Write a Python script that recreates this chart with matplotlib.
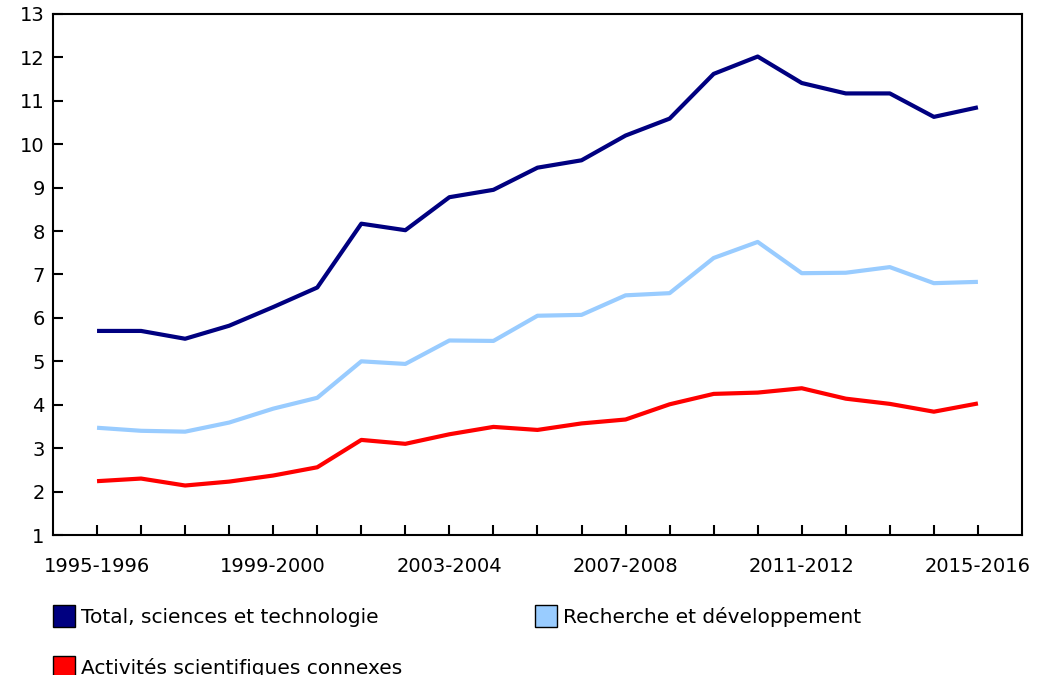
import matplotlib
matplotlib.use("Agg")
from matplotlib import pyplot as plt
from matplotlib.patches import Patch

# data
years = ["1995-1996", "1996-1997", "1997-1998", "1998-1999", "1999-2000",
         "2000-2001", "2001-2002", "2002-2003", "2003-2004", "2004-2005",
         "2005-2006", "2006-2007", "2007-2008", "2008-2009", "2009-2010",
         "2010-2011", "2011-2012", "2012-2013", "2013-2014", "2014-2015",
         "2015-2016"]
total_st = [5.7, 5.7, 5.52, 5.82, 6.25, 6.7, 8.17, 8.02, 8.78, 8.95,
            9.46, 9.63, 10.2, 10.59, 11.62, 12.02, 11.41, 11.17, 11.17, 10.63, 10.85]
rd = [3.47, 3.4, 3.38, 3.59, 3.91, 4.16, 5.0, 4.94, 5.48, 5.47,
      6.05, 6.07, 6.52, 6.57, 7.38, 7.75, 7.03, 7.04, 7.17, 6.8, 6.83]
related = [2.24, 2.3, 2.14, 2.23, 2.37, 2.56, 3.19, 3.1, 3.32, 3.49,
           3.42, 3.57, 3.66, 4.01, 4.25, 4.28, 4.38, 4.14, 4.02, 3.84, 4.03]
labels = ["Total, sciences et technologie", "Recherche et développement",
          "Activités scientifiques connexes"]
colors = ["#000080", "#99CCFF", "#FF0000"]

plt.rcParams['font.family'] = ['DejaVu Sans']

fig = plt.figure(figsize=(10.37, 6.75), dpi=100)
ax = fig.add_axes([0.0511, 0.2074, 0.9344, 0.7719])

x = list(range(len(years)))
for series, color in zip([total_st, rd, related], colors):
    ax.plot(x, series, color=color, linewidth=3, solid_capstyle='butt')

ax.set_xlim(-1, 21)
ax.set_ylim(1, 13)
ax.set_yticks(range(1, 14))
ax.set_xticks(x)
ax.set_xticklabels([y if i % 4 == 0 else "" for i, y in enumerate(years)])
ax.tick_params(axis='both', direction='in', length=7, width=1.5, labelsize=14,
               colors='black')
ax.tick_params(axis='x', pad=16)
ax.tick_params(axis='y', pad=6)
for side in ax.spines.values():
    side.set_linewidth(1.5)
    side.set_color('black')

# legend fills column by column, so order entries to get row-wise layout
order = [0, 2, 1]
handles = [Patch(facecolor=colors[i], edgecolor='black', linewidth=1) for i in order]
fig.legend(handles, [labels[i] for i in order], loc='upper left',
           bbox_to_anchor=(0.051, 0.104), ncol=2, frameon=False, fontsize=14.5,
           handlelength=1.1, handleheight=1.3, handletextpad=0.3,
           columnspacing=6.6, labelspacing=1.45, borderaxespad=0, borderpad=0)

fig.savefig("out.png", dpi=100)
